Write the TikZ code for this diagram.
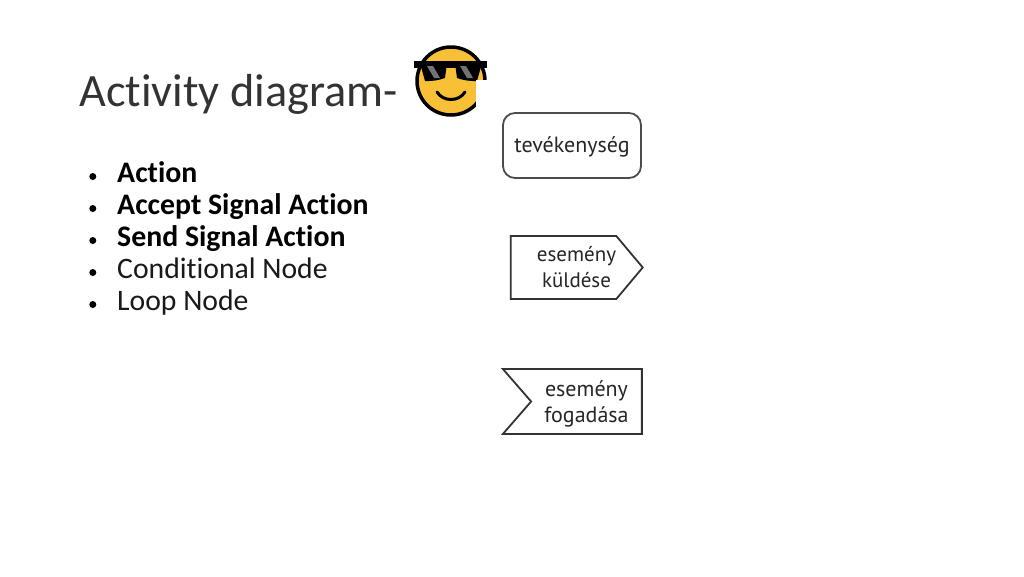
\documentclass[tikz,border=0pt]{standalone}
\usepackage{fontspec}
\setmainfont{Carlito}[Ligatures=CommonOff]
\newfontfamily\shapefont{PT Sans}
\definecolor{emojiyellow}{HTML}{F8C037}
\usetikzlibrary{positioning,shapes.symbols}

\begin{document}
\begin{tikzpicture}[
	x=1pt, y=-1pt,
	node distance=32pt,
	titlenode/.style={inner sep=0, anchor=base west, font=\fontsize{46.3}{50}\selectfont, text=black!80},
	item/.style={inner sep=0, text height=22pt, text depth=7pt, font=\fontsize{29.7}{32}\selectfont, text=black!90},
	bold/.style={item, font=\fontsize{29.8}{32}\selectfont\bfseries, text=black},
	bullet/.style={circle, fill=black, inner sep=0, minimum size=7pt},
	actionbox/.style={draw=black!70, line width=1.8pt, rectangle, rounded corners=12pt, minimum width=138pt, minimum height=65pt},
	signalbox/.style={draw=black!80, line width=1.8pt, signal, inner sep=0},
	shapetext/.style={inner sep=0, align=center, font=\shapefont\fontsize{22}{26}\selectfont, text=black!85}
	]
	\useasboundingbox (0,0) rectangle (1024,576);

	%==================== title ====================
	\node[titlenode] (title) at (79,106) {Activity diagram-};

	% emoji
	\fill[emojiyellow] (451,81) circle (34);
	\draw[black, line width=3.5pt] (451,81) circle (34);
	\fill[black] (414,61) rectangle (487,68);
	\fill[black] (420,63) -- (447,63) -- (445,78) to[bend left=10] (425,81) -- cycle;
	\fill[black] (455,63) -- (482,63) -- (477,81) to[bend left=10] (457,78) -- cycle;
	\fill[black!55] (427,66) -- (433,66) -- (440,78) -- (434,78) -- cycle;
	\fill[black!55] (460,66) -- (466,66) -- (473,78) -- (467,78) -- cycle;
	\draw[black, line width=3pt, line cap=round] (437,92) .. controls (443,102) and (459,102) .. (465,92);
	\fill[white] (476,80) rectangle (492,120);

	%==================== list ====================
	\node[bold, anchor=west] (action) at (117,174.5) {Action};
	\node[bold, below=of action.west, anchor=west] (accept) {Accept Signal Action};
	\node[bold, below=of accept.west, anchor=west] (send) {Send Signal Action};
	\node[item, below=of send.west, anchor=west] (cond) {Conditional Node};
	\node[item, below=of cond.west, anchor=west] (loop) {Loop Node};

	\foreach \name in {action,accept,send,cond,loop}
		\node[bullet, left=20.5pt of \name.west, yshift=-2pt] (b\name) {};

	%==================== shapes ====================
	\node[actionbox] (act) at (572,145.5) {};
	\node[shapetext] (acttext) at ([yshift=-1pt]act.center) {tevékenység};

	\node[signalbox, signal to=east, signal pointer angle=100, minimum width=132pt, minimum height=63pt] (sendsig) at (563.5,267.5) {};
	\node[shapetext, font=\shapefont\fontsize{21}{26}\selectfont] (sendtext) at (576.5,267.5) {esemény\\küldése};

	\node[signalbox, signal to=nowhere, signal from=west, signal pointer angle=98, minimum width=139pt, minimum height=65pt] (recvsig) at (586.5,401.5) {};
	\node[shapetext] (recvtext) at (586.5,403.5) {esemény\\fogadása};
\end{tikzpicture}
\end{document}
